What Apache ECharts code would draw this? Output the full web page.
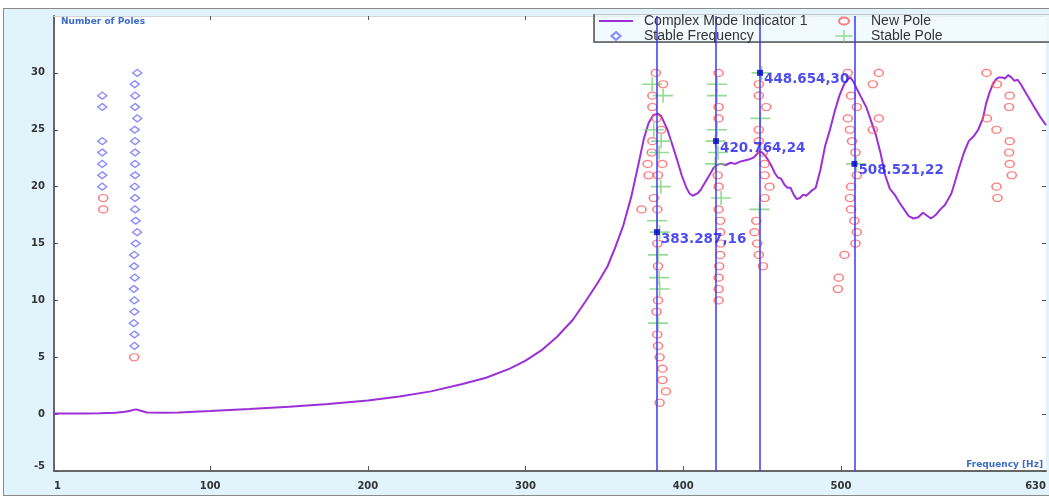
<!DOCTYPE html>
<html>
<head>
<meta charset="utf-8">
<title>Stabilization Diagram</title>
<script src="https://cdn.jsdelivr.net/npm/echarts@6/dist/echarts.min.js"></script>
<style>
  html, body { margin: 0; padding: 0; background: #fff; overflow: hidden; }
  .frame {
    position: absolute; left: 3px; top: 8px; width: 1050px; height: 486px;
    border: 1px solid #8a8a8a; background: #e1f3fb;
  }
  #chart { position: absolute; left: 0; top: 0; width: 1049px; height: 498px; }
</style>
</head>
<body>
<div class="frame"></div>
<div id="chart"></div>
<script>
// tick labels
const xTickLabels = [1, 100, 200, 300, 400, 500, 630];
const yTickLabels = [-5, 0, 5, 10, 15, 20, 25, 30];

// complex mode indicator function [Hz, value]
const cmif = [
  [1, 0.05], [10, 0.05], [20, 0.06], [30, 0.08], [40, 0.12], [46, 0.2], [50, 0.32], [53, 0.42],
  [56, 0.3], [60, 0.15], [70, 0.12], [80, 0.15], [100, 0.28], [125, 0.45], [150, 0.65], [175, 0.9],
  [200, 1.2], [220, 1.55], [240, 2.0], [260, 2.65], [275, 3.2], [290, 4.0], [300, 4.7], [310, 5.6],
  [320, 6.8], [330, 8.3], [338, 9.9], [346, 11.6], [352, 13.0], [357, 14.7], [362, 16.6], [367, 19.1],
  [371, 21.6], [375, 24.2], [378, 25.6], [381, 26.3], [384, 26.4], [386, 26.2], [388, 25.6], [390, 25.0],
  [393, 23.7], [396, 22.4], [399, 21.0], [402, 19.9], [404, 19.4], [406, 19.2], [409, 19.4], [411, 19.7],
  [414, 20.4], [417, 21.1], [419, 21.6], [421, 21.9], [424, 22.0], [427, 21.9], [430, 22.1], [433, 22.0],
  [436, 22.2], [439, 22.3], [442, 22.4], [445, 22.6], [448, 23.1], [450, 23.0], [452, 22.7], [454, 22.3],
  [456, 21.8], [458, 21.2], [460, 20.8], [462, 20.7], [464, 20.2], [466, 19.9], [468, 19.9], [470, 19.3],
  [472, 18.9], [474, 19.0], [476, 19.3], [478, 19.2], [481, 19.6], [484, 19.9], [487, 21.5], [490, 23.6],
  [493, 25.0], [496, 26.6], [499, 28.0], [502, 29.0], [504, 29.4], [506, 29.6], [508, 29.2], [510, 28.6],
  [513, 27.8], [516, 27.0], [519, 25.8], [522, 24.6], [525, 23.0], [528, 21.0], [531, 19.8], [534, 19.3],
  [537, 18.6], [540, 18.0], [543, 17.4], [546, 17.2], [549, 17.3], [552, 17.7], [554, 17.5], [557, 17.2],
  [560, 17.5], [563, 18.0], [566, 18.4], [568, 18.9], [570, 19.4], [572, 20.3], [575, 21.7], [578, 23.0],
  [581, 24.0], [584, 24.4], [587, 25.0], [590, 26.0], [592, 27.3], [594, 28.2], [596, 28.9], [598, 29.4],
  [600, 29.6], [602, 29.6], [604, 29.5], [606, 29.8], [608, 29.6], [610, 29.3], [612, 29.4], [614, 29.0],
  [617, 28.3], [620, 27.6], [623, 26.9], [626, 26.2], [630, 25.4]
];

// poles [Hz, model order]
const stableFrequency = [
  [31.6, 28], [31.6, 27], [31.6, 24], [31.6, 23], [31.6, 22], [31.6, 21], [31.6, 20],
  [53.8, 30], [52.2, 29], [52.4, 28], [52.4, 27], [53.8, 26], [52.2, 25], [52.4, 24], [52.4, 23],
  [52.4, 22], [52.4, 21], [52.2, 20], [52.4, 19], [52.4, 18], [52.8, 17], [53.7, 16], [52.8, 15],
  [51.8, 14], [51.8, 13], [52.2, 12], [51.6, 11], [52, 10], [52, 9], [51.6, 8], [52, 7], [52, 6]
];

const newPole = [
  [32.2, 19], [32.2, 18], [51.8, 5],
  [382.6, 30], [387.2, 29], [380.4, 28], [380.4, 27], [383, 26], [386.1, 25], [380.4, 24], [380, 23],
  [377.4, 22], [386.7, 22], [378, 21], [384, 21], [381.3, 19], [373.5, 18], [383.6, 18], [383.6, 15],
  [384, 13], [384, 10], [383, 9], [383.5, 7], [384, 6], [385, 5], [386.8, 4], [386.8, 3], [389, 2], [385, 1],
  [422.4, 30], [422.4, 27], [422.4, 26], [421.8, 21], [422.4, 20], [422.4, 18], [423.4, 17], [423.4, 16],
  [423.8, 15], [423.4, 14], [422.8, 13], [422.4, 12], [422.4, 11], [422.4, 10],
  [447.9, 29], [447.9, 28], [452.6, 27], [447.9, 25], [447.9, 24], [450.5, 23], [451.6, 22], [451.6, 21],
  [454.7, 20], [451.6, 19], [446.3, 17], [445.2, 16], [446.9, 15], [447.9, 14], [450.5, 13],
  [504.3, 30], [524, 30], [520.2, 29], [506.4, 28], [510, 27], [504.3, 26], [524, 26], [505.7, 25],
  [520.2, 25], [507, 24], [509.2, 23], [510, 21], [506.4, 20], [505.7, 19], [506.4, 18], [508.5, 17],
  [510, 16], [509.2, 15], [502.2, 14], [498.6, 12], [498, 11],
  [592.3, 30], [598.8, 29], [607, 28], [606.6, 27], [592.5, 26], [598.6, 25], [607, 24], [606.6, 23],
  [607, 22], [608.3, 21], [598.6, 20], [599.2, 19]
];

const stablePole = [
  [380.3, 29], [387.2, 28], [381.3, 25], [386, 24], [384.7, 23], [385.8, 20], [383.4, 17], [385, 16],
  [384, 14], [384.7, 12], [385, 11], [384, 8],
  [421.4, 29], [421.4, 28], [421.4, 25], [420.5, 24], [422, 23], [420.3, 22], [424, 19],
  [449.7, 30], [448.9, 26], [448.3, 18],
  [509.6, 22]
];

// picked modes
const selectedFreq = [383.287, 420.764, 448.654, 508.521];
const selectedOrder = [16, 24, 30, 22];

const plusIcon = 'path://M0,6.2 H20 V7.8 H0 Z M9.2,0 H10.8 V14 H9.2 Z';

// legend icons; the leading moves keep the icon box the same as the legend item box
const lineIcon = 'path://M0,4 H34 V6 H0 Z';
const diamondIcon = 'path://M0,0 M34,10 M17,1 L21.5,5 L17,9 L12.5,5 Z';
const circleIcon = 'path://M0,0 M22,12 M6,6 A5,3.6 0 1,0 16,6 A5,3.6 0 1,0 6,6 Z';

const chart = echarts.init(document.getElementById('chart'));

const axisText = { fontSize: 10, fontWeight: 'bold', color: '#333', fontFamily: 'DejaVu Sans' };
const legendText = { fontSize: 14, lineHeight: 13, color: '#333', fontFamily: 'Liberation Sans' };

const option = {
  animation: false,
  backgroundColor: 'transparent',
  grid: {
    left: 54, right: 1, top: 16, bottom: 27,
    show: true, backgroundColor: '#fff', borderWidth: 0
  },
  legend: [
    {
      data: [
        { name: 'Complex Mode Indicator 1', icon: lineIcon },
        { name: 'Stable Frequency', icon: diamondIcon }
      ],
      orient: 'vertical', left: 598, top: 14, padding: 0, itemGap: 1,
      itemWidth: 34, itemHeight: 10, z: 6, selectedMode: false,
      textStyle: Object.assign({ padding: [0, 0, 0, 6] }, legendText)
    },
    {
      data: [
        { name: 'New Pole', icon: circleIcon },
        { name: 'Stable Pole' }
      ],
      orient: 'vertical', left: 832, top: 14, padding: 0, itemGap: 1,
      itemWidth: 22, itemHeight: 12, z: 6, selectedMode: false,
      textStyle: Object.assign({ padding: [0, 0, 0, 11] }, legendText)
    }
  ],
  graphic: [
    {
      type: 'rect', left: 594, top: 14, z: 3, silent: true,
      shape: { width: 470, height: 28 },
      style: { fill: 'rgba(236,248,253,0.75)', stroke: '#c4c4c4', lineWidth: 1 }
    },
    {
      type: 'polyline', z: 3, silent: true,
      shape: { points: [[594, 14], [594, 42], [1049, 42]] },
      style: { stroke: '#555', lineWidth: 1.5, fill: null }
    }
  ],
  xAxis: [
    {
      type: 'value', min: 1, max: 630, position: 'bottom',
      name: 'Frequency [Hz]', nameLocation: 'end', nameGap: -3,
      nameTextStyle: { align: 'right', verticalAlign: 'bottom', fontSize: 9, fontWeight: 'bold', color: '#3b6cc8', fontFamily: 'DejaVu Sans', padding: [0, 0, 2, 0] },
      axisLine: { onZero: false, lineStyle: { color: '#666', width: 2 } },
      axisTick: { inside: true, length: 5, customValues: xTickLabels.slice(1, -1), lineStyle: { color: '#555' } },
      axisLabel: Object.assign({ customValues: xTickLabels, margin: 10, alignMinLabel: 'left', alignMaxLabel: 'right' }, axisText),
      splitLine: { show: false }
    },
    {
      type: 'value', min: 1, max: 630, position: 'top',
      axisLine: { show: true, onZero: false, lineStyle: { color: '#d4d4d4', width: 1 } },
      axisTick: { inside: true, length: 4, customValues: xTickLabels.slice(1, -1), lineStyle: { color: '#555' } },
      axisLabel: { show: false },
      splitLine: { show: false }
    }
  ],
  yAxis: [
    {
      type: 'value', min: -5, max: 35, interval: 5,
      name: 'Number of Poles', nameLocation: 'end', nameGap: -6,
      nameTextStyle: { align: 'left', verticalAlign: 'middle', fontSize: 9, fontWeight: 'bold', color: '#3b6cc8', fontFamily: 'DejaVu Sans', padding: [0, 0, 0, 7] },
      axisLine: { show: true, onZero: false, lineStyle: { color: '#666', width: 2 } },
      axisTick: { show: true, inside: true, length: 4, customValues: yTickLabels, lineStyle: { color: '#555' } },
      axisLabel: Object.assign({ customValues: yTickLabels, margin: 9, verticalAlignMinLabel: 'bottom' }, axisText),
      splitLine: { show: false }
    },
    {
      type: 'value', min: -5, max: 35, interval: 5, position: 'right',
      axisLine: { show: false, onZero: false },
      axisTick: { show: true, inside: true, length: 4, customValues: yTickLabels, lineStyle: { color: '#555' } },
      axisLabel: { show: false },
      splitLine: { show: false }
    }
  ],
  series: [
    {
      name: 'Complex Mode Indicator 1',
      type: 'line',
      data: cmif,
      symbol: 'none',
      z: 2,
      lineStyle: { color: '#9b30d8', width: 2 },
      itemStyle: { color: '#9b30d8' }
    },
    {
      name: 'Stable Frequency',
      type: 'scatter',
      data: stableFrequency,
      symbol: 'diamond',
      symbolSize: [9, 7],
      z: 2,
      itemStyle: { color: 'rgba(0,0,0,0)', borderColor: '#6b6bff', borderWidth: 1.4 }
    },
    {
      name: 'New Pole',
      type: 'scatter',
      data: newPole,
      symbol: 'circle',
      symbolSize: [9, 7],
      z: 2,
      itemStyle: { color: 'rgba(0,0,0,0)', borderColor: '#ff5b5b', borderWidth: 1.4 }
    },
    {
      name: 'Stable Pole',
      type: 'scatter',
      data: stablePole,
      symbol: plusIcon,
      symbolSize: [20, 14],
      z: 2,
      itemStyle: { color: '#79d179' }
    },
    {
      name: 'Selected Mode',
      type: 'scatter',
      data: selectedFreq.map((f, i) => [f, selectedOrder[i]]),
      symbol: 'rect',
      symbolSize: 6,
      z: 5,
      itemStyle: { color: '#0000cc' },
      label: {
        show: true,
        position: 'right',
        distance: 1,
        offset: [0, 7],
        formatter: p => p.value[0] + ',' + p.value[1],
        fontFamily: 'DejaVu Sans',
        fontWeight: 'bold',
        fontSize: 13.5,
        color: '#1f1fee'
      },
      markLine: {
        silent: true,
        symbol: ['none', 'none'],
        label: { show: false },
        lineStyle: { color: '#3a3af5', width: 1.5, type: 'solid' },
        data: selectedFreq.map(f => ({ xAxis: f }))
      }
    }
  ]
};

chart.setOption(option);
</script>
</body>
</html>
